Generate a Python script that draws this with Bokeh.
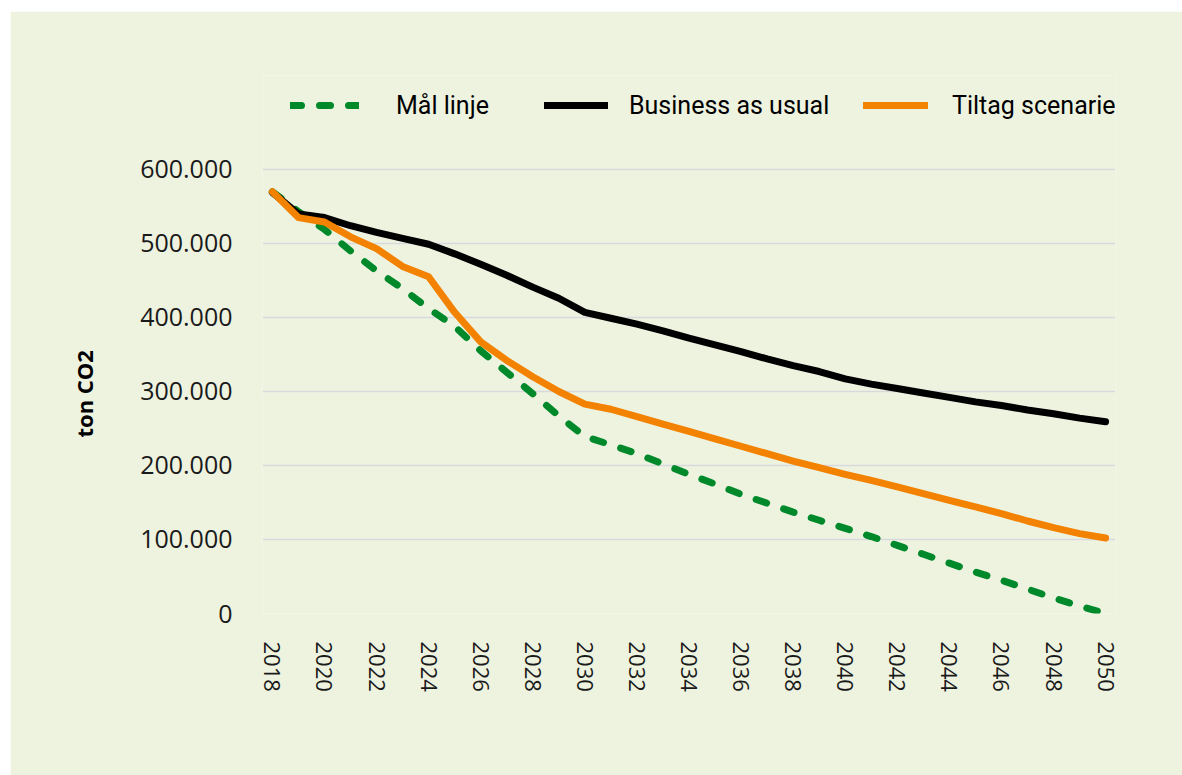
import math
from bokeh.plotting import figure
from bokeh.models import Range1d, FixedTicker, Legend, LegendItem, Spacer, Title
from bokeh.layouts import column, row
from bokeh.embed import file_html
from bokeh.resources import INLINE

years = list(range(2018, 2051))

maal_linje = [570, 543, 519, 490, 463, 439, 412, 388, 355, 326, 297, 267,
              239, 228, 216, 202, 188, 175, 161, 149, 137, 126, 115, 104,
              92, 80, 68, 56, 45, 33, 21, 10, 0]
business_as_usual = [569, 540, 535, 524, 515, 507, 499, 486, 472, 457,
                     441, 426, 407, 399, 391, 382, 372, 363, 354, 344,
                     335, 327, 317, 310, 304, 298, 292, 286, 281, 275,
                     270, 264, 259]
tiltag_scenarie = [570, 535, 529, 509, 493, 469, 455, 407, 367, 342,
                   320, 300, 283, 276, 266, 256, 246, 236, 226, 216,
                   206, 197, 188, 180, 171, 162, 153, 144, 135, 125,
                   116, 108, 102]

y_tick_values = [0, 100000, 200000, 300000, 400000, 500000, 600000]
y_tick_labels = ["0", "100.000", "200.000", "300.000", "400.000", "500.000", "600.000"]
x_tick_values = list(range(2018, 2051, 2))

series_names = ["Mål linje", "Business as usual", "Tiltag scenarie"]
y_title = "ton CO2"

BG = "#EEF3E0"
GREEN = "#00892A"
BLACK = "#000000"
ORANGE = "#F28200"

p = figure(width=1172, height=764, output_backend="svg", toolbar_location=None,
           x_range=Range1d(2017.62, 2050.38), y_range=Range1d(0, 727000),
           min_border_left=252, min_border_right=67, min_border_top=64,
           min_border_bottom=162)
p.background_fill_color = BG
p.border_fill_color = BG
p.outline_line_color = None

p.xgrid.grid_line_color = None
p.ygrid.grid_line_color = "#D8D9DC"
p.ygrid.grid_line_width = 1.5

p.yaxis.ticker = FixedTicker(ticks=y_tick_values)
p.yaxis.major_label_overrides = {v: l for v, l in zip(y_tick_values, y_tick_labels)}
p.xaxis.ticker = FixedTicker(ticks=x_tick_values)

for ax in (p.xaxis, p.yaxis):
    ax.axis_line_color = None
    ax.major_tick_line_color = None
    ax.minor_tick_line_color = None
    ax.major_tick_out = 0
    ax.major_tick_in = 0
    ax.major_label_text_font = "Open Sans"
    ax.major_label_text_color = "#1A1A1A"

p.yaxis.major_label_text_font_size = "25px"
p.yaxis.major_label_standoff = 30
p.xaxis.major_label_text_font_size = "22px"
p.xaxis.major_label_orientation = -math.pi / 2
p.xaxis.major_label_standoff = 28

# y-axis title, placed over the 0..600.000 part of the frame
p.add_layout(Title(text=y_title, align="left", offset=176, standoff=77,
                   text_font="Open Sans", text_font_style="bold",
                   text_font_size="22px", text_color="#000000"), "left")

scale = 1000
g = p.line(years, [v * scale for v in maal_linje], line_color=GREEN, line_width=7,
           line_dash="11 18", line_cap="round", line_join="round")
b = p.line(years, [v * scale for v in business_as_usual], line_color=BLACK, line_width=7,
           line_cap="round", line_join="round")
o = p.line(years, [v * scale for v in tiltag_scenarie], line_color=ORANGE, line_width=7,
           line_cap="round", line_join="round")


def make_legend(label, rend, x, glyph_w, standoff):
    lg = Legend(items=[LegendItem(label=label, renderers=[rend])],
                orientation="horizontal", location=(x, 493),
                glyph_width=glyph_w, glyph_height=30, label_standoff=standoff,
                padding=0, margin=0, border_line_color=None,
                background_fill_alpha=0,
                label_text_font="Roboto", label_text_font_size="25px",
                label_text_color="#000000")
    p.add_layout(lg, "center")


make_legend(series_names[0], g, 28, 69, 37)
make_legend(series_names[1], b, 282, 64, 21)
make_legend(series_names[2], o, 601, 65, 24)

layout = column(Spacer(height=11), row(Spacer(width=10), p))
open("out.html", "w").write(file_html(layout, INLINE))
